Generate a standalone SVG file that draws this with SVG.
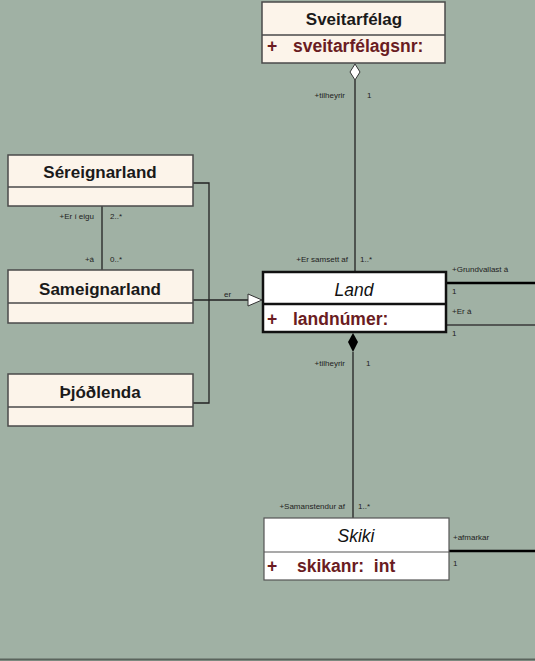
<svg xmlns="http://www.w3.org/2000/svg" width="535" height="661" viewBox="0 0 535 661">
<style>
.box{fill:#fcf4ea;stroke:#4a4a4a;stroke-width:1.5}
.wbox{fill:#ffffff;stroke:#111;stroke-width:2.5}
.title{font-family:"Liberation Sans",Arial,sans-serif;font-size:17px;font-weight:bold;fill:#1a1a1a;text-anchor:middle}
.ital{font-family:"Liberation Sans",Arial,sans-serif;font-size:17.5px;font-style:italic;fill:#111;text-anchor:middle}
.attr{font-family:"Liberation Sans",Arial,sans-serif;font-size:17.5px;font-weight:bold;fill:#6a1c22;white-space:pre}
.lbl{font-family:"Liberation Sans",Arial,sans-serif;font-size:8px;fill:#222}
.r{text-anchor:end}
.ln{stroke:#222;stroke-width:1.3;fill:none}
.thick{stroke:#000;stroke-width:2.5;fill:none}
</style>
<rect x="0" y="0" width="535" height="661" fill="#a0b1a4"/>
<line x1="0" y1="659.5" x2="535" y2="659.5" stroke="#5a645c" stroke-width="2"/>
<g id="connectors">
  <line class="ln" x1="355" y1="80" x2="355" y2="271"/>
  <polygon points="355,64 360,72 355,80 350,72" fill="#ffffff" stroke="#333" stroke-width="1"/>
  <text class="lbl r" x="345" y="98">+tilheyrir</text>
  <text class="lbl" x="367" y="98">1</text>
  <text class="lbl r" x="348" y="262">+Er samsett af</text>
  <text class="lbl" x="360" y="262">1..*</text>

  <line class="ln" x1="102" y1="206" x2="102" y2="270"/>
  <text class="lbl r" x="94" y="219">+Er í eigu</text>
  <text class="lbl" x="110" y="219">2..*</text>
  <text class="lbl r" x="94" y="262">+á</text>
  <text class="lbl" x="110" y="262">0..*</text>

  <polyline class="ln" points="193,183 209,183 209,403 193,403"/>
  <line class="ln" x1="193" y1="300" x2="248" y2="300"/>
  <polygon points="248,294 262,300 248,306" fill="#ffffff" stroke="#333" stroke-width="1"/>
  <text class="lbl" x="224" y="297">er</text>

  <line class="thick" x1="446" y1="283" x2="535" y2="283"/>
  <text class="lbl" x="452" y="272">+Grundvallast á</text>
  <text class="lbl" x="452" y="294">1</text>
  <line x1="446" y1="325" x2="535" y2="325" stroke="#3a3a3a" stroke-width="1.5"/>
  <text class="lbl" x="452" y="314">+Er á</text>
  <text class="lbl" x="452" y="336">1</text>

  <line class="ln" x1="353" y1="352" x2="353" y2="518"/>
  <polygon points="353,333 358,342 353,352 348,342" fill="#000"/>
  <text class="lbl r" x="345" y="366">+tilheyrir</text>
  <text class="lbl" x="366" y="366">1</text>
  <text class="lbl r" x="345" y="509">+Samanstendur af</text>
  <text class="lbl" x="358" y="509">1..*</text>

  <line class="thick" x1="449" y1="551" x2="535" y2="551"/>
  <text class="lbl" x="453" y="540">+afmarkar</text>
  <text class="lbl" x="453" y="566">1</text>
</g>
<g id="Sveitarfelag">
  <rect class="box" x="262" y="2" width="183" height="61"/>
  <line x1="262" y1="35" x2="445" y2="35" stroke="#4a4a4a" stroke-width="1.5"/>
  <text class="title" x="354" y="25">Sveitarfélag</text>
  <text class="attr" x="267" y="52">+</text>
  <text class="attr" x="293" y="52">sveitarfélagsnr:</text>
</g>
<g id="Sereignarland">
  <rect class="box" x="8" y="155" width="185" height="51"/>
  <line x1="8" y1="187" x2="193" y2="187" stroke="#4a4a4a" stroke-width="1.5"/>
  <text class="title" x="100" y="178">Séreignarland</text>
</g>
<g id="Sameignarland">
  <rect class="box" x="8" y="270" width="185" height="53"/>
  <line x1="8" y1="303" x2="193" y2="303" stroke="#4a4a4a" stroke-width="1.5"/>
  <text class="title" x="100" y="295">Sameignarland</text>
</g>
<g id="Thjodlenda">
  <rect class="box" x="8" y="374" width="185" height="52"/>
  <line x1="8" y1="407" x2="193" y2="407" stroke="#4a4a4a" stroke-width="1.5"/>
  <text class="title" x="100" y="398">Þjóðlenda</text>
</g>
<g id="Land">
  <rect class="wbox" x="263" y="272" width="183" height="60"/>
  <line x1="263" y1="304" x2="446" y2="304" stroke="#111" stroke-width="2.5"/>
  <text class="ital" x="354" y="296">Land</text>
  <text class="attr" x="267" y="325">+</text>
  <text class="attr" x="293" y="325">landnúmer:</text>
</g>
<g id="Skiki">
  <rect x="264" y="518" width="185" height="62" fill="#fff" stroke="#555" stroke-width="1.2"/>
  <line x1="264" y1="552" x2="449" y2="552" stroke="#555" stroke-width="1.2"/>
  <text class="ital" x="356" y="542">Skiki</text>
  <text class="attr" x="267" y="572">+</text>
  <text class="attr" x="297" y="572">skikanr:  int</text>
</g>
</svg>
